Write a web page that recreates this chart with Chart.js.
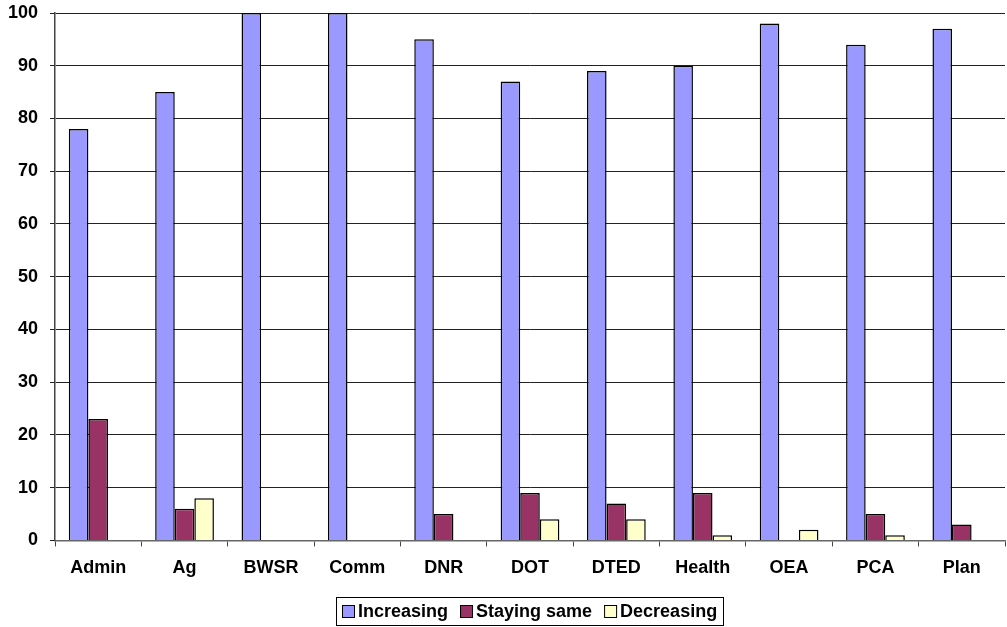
<!DOCTYPE html>
<html>
<head>
<meta charset="utf-8">
<script src="https://cdn.jsdelivr.net/npm/chart.js@4.4.0/dist/chart.umd.min.js"></script>
<style>
  body { margin: 0; background: #fff; }
  #wrap { width: 1007px; height: 627px; }
</style>
</head>
<body>
<div id="wrap"><canvas id="myChart" width="1007" height="627"></canvas></div>
<script>
// data
const categories = ["Admin", "Ag", "BWSR", "Comm", "DNR", "DOT", "DTED", "Health", "OEA", "PCA", "Plan"];
const increasing = [78, 85, 100, 100, 95, 87, 89, 90, 98, 94, 97];
const stayingSame = [23, 6, 0, 0, 5, 9, 7, 9, 0, 5, 3];
const decreasing = [0, 8, 0, 0, 0, 4, 4, 1, 2, 1, 0];
const yTicks = [0, 10, 20, 30, 40, 50, 60, 70, 80, 90, 100];

const fontFamily = "'Liberation Sans', Arial, sans-serif";
const font = { family: fontFamily, size: 18, weight: "bold" };

// excel style legend: small boxes, tight text, a frame round it,
// centred under the plot area
const boxLegend = {
  id: "boxLegend",
  afterDraw(chart) {
    const ctx = chart.ctx;
    const area = chart.chartArea;
    const sets = chart.data.datasets;
    ctx.save();
    ctx.font = "bold 18px " + fontFamily;
    const box = 13, gap = 3, space = 12, pad = 6;
    let widths = sets.map((ds) => box + gap + ctx.measureText(ds.label).width);
    let total = widths.reduce((a, b) => a + b, 0) + space * (sets.length - 1) + pad * 2;
    let left = Math.round((area.left + area.right) / 2 - total / 2);
    let top = chart.height - 30;
    ctx.strokeStyle = "#000";
    ctx.lineWidth = 1;
    ctx.strokeRect(left + 0.5, top + 0.5, Math.round(total), 28);
    let x = left + pad;
    let mid = top + 14;
    ctx.textBaseline = "middle";
    ctx.fillStyle = "#000";
    for (let i = 0; i < sets.length; i++) {
      ctx.fillStyle = sets[i].backgroundColor;
      ctx.fillRect(x, mid - 6, box - 1, box - 1);
      ctx.strokeStyle = "#000";
      ctx.strokeRect(x + 0.5, mid - 5.5, box - 1, box - 1);
      ctx.fillStyle = "#000";
      ctx.fillText(sets[i].label, x + box + gap, mid + 1);
      x += widths[i] + space;
    }
    ctx.restore();
  },
};

let ctx = document.getElementById("myChart").getContext("2d");
new Chart(ctx, {
  type: "bar",
  data: {
    labels: categories,
    datasets: [
      {
        label: "Increasing",
        data: increasing,
        backgroundColor: "#9999FF",
        borderColor: "#000",
        borderWidth: 1.5,
      },
      {
        label: "Staying same",
        data: stayingSame,
        backgroundColor: "#993366",
        borderColor: "#000",
        borderWidth: 1.5,
      },
      {
        label: "Decreasing",
        data: decreasing,
        backgroundColor: "#FFFFCC",
        borderColor: "#000",
        borderWidth: 1.5,
      },
    ],
  },
  options: {
    responsive: false,
    animation: false,
    layout: { padding: { top: 0, right: 2, left: 0, bottom: 37 } },
    datasets: { bar: { categoryPercentage: 0.68, barPercentage: 1.0 } },
    plugins: {
      tooltip: { enabled: false },
      legend: { display: false },
    },
    scales: {
      x: {
        grid: {
          offset: true,
          drawOnChartArea: false,
          drawTicks: true,
          tickLength: 6,
          color: "#444",
        },
        border: { color: "#666", width: 1.5 },
        ticks: { font: font, color: "#000", padding: 11 },
      },
      y: {
        min: 0,
        max: 100,
        afterBuildTicks(axis) {
          axis.ticks = yTicks.map((v) => ({ value: v }));
        },
        afterFit(axis) {
          axis.width = 55;
          axis.paddingTop = 13;
          axis.paddingBottom = 0;
        },
        grid: { color: "#222", lineWidth: 1, tickLength: 5 },
        border: { color: "#444", width: 1.5 },
        ticks: { font: font, color: "#000", padding: 12 },
      },
    },
  },
  plugins: [boxLegend],
});
</script>
</body>
</html>
